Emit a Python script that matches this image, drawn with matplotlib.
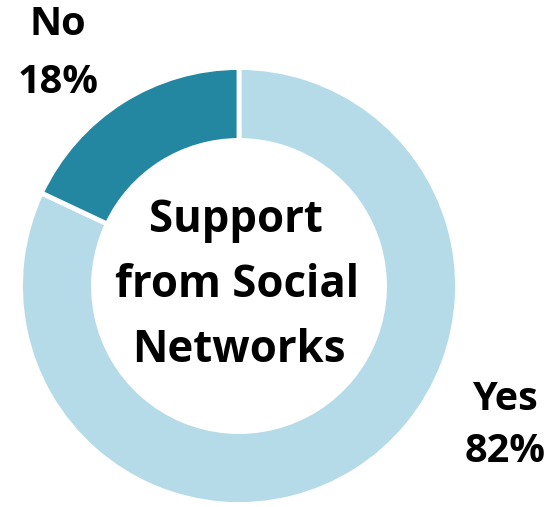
import matplotlib
matplotlib.use("Agg")
import matplotlib.pyplot as plt

categories = ["Yes", "No"]
values = [82, 18]
colors = ["#B5DBE9", "#2387A1"]
center_lines = ["Support", "from Social", "Networks"]

W, H = 552, 507
fig = plt.figure(figsize=(W / 100, H / 100), dpi=100)
ax = fig.add_axes([0, 0, 1, 1])

# ring geometry (pixels)
cx, cy, R = 239.0, 286.0, 218.5
ax.pie(values, colors=colors, startangle=90, counterclock=False,
       radius=1.0, center=(0, 0),
       wedgeprops=dict(width=0.334, edgecolor="white", linewidth=3.5))
ax.set_aspect("auto")
ax.set_xlim(-cx / R, (W - cx) / R)
ax.set_ylim(-(H - cy) / R, cy / R)
ax.axis("off")

font = "Open Sans"

def ptext(x, y, s, size):
    fig.text(x / W, 1 - y / H, s, ha="center", va="baseline",
             fontsize=size, fontweight="bold", family=font, color="black")

for line, (x, y) in zip(center_lines, [(236, 232), (237, 297), (239, 362)]):
    ptext(x, y, line, 31.5)

ptext(57.5, 35, categories[1], 28.5)
ptext(58, 93, f"{values[1]}%", 28.5)
ptext(505, 410, categories[0], 28.5)
ptext(505, 462, f"{values[0]}%", 28.5)

fig.savefig("out.png", dpi=100, facecolor="white")
